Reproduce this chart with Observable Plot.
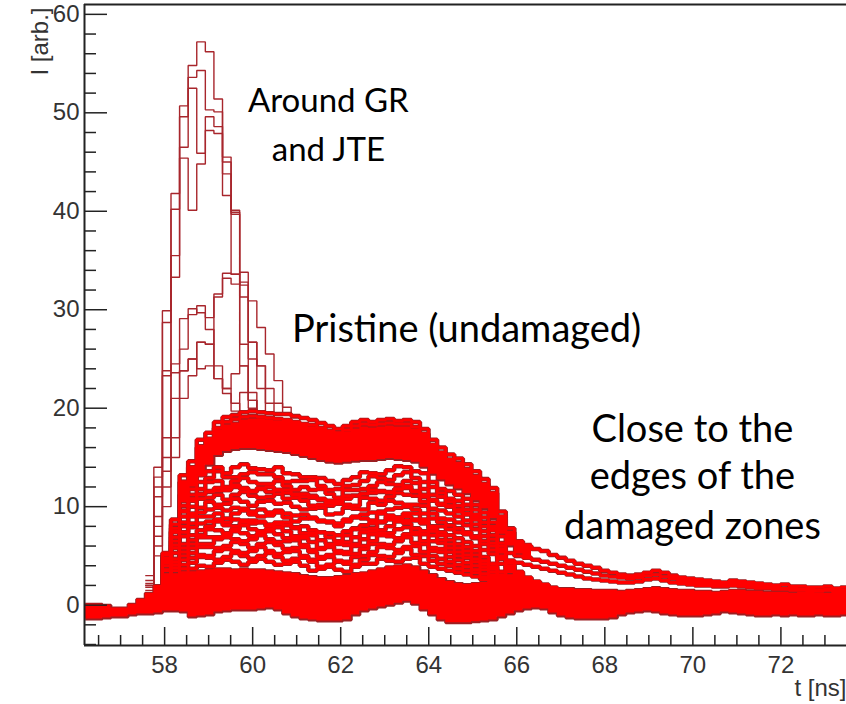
<!DOCTYPE html>
<html><head><meta charset="utf-8">
<script src="https://cdn.jsdelivr.net/npm/d3@7"></script>
<script src="https://cdn.jsdelivr.net/npm/@observablehq/plot@0.6"></script>
<style>body{margin:0;background:#fff}</style>
</head><body><div id="chart"></div>
<script>
// Histogram binning (ns)
const binStart = 56.195;
const binWidth = 0.195;
const xDomain = [56.18, 73.49];
const yDomain = [-4.1, 61.0];
const xMajor = [58, 60, 62, 64, 66, 68, 70, 72];
const yMajor = [0, 10, 20, 30, 40, 50, 60];
const xMinor = [56.5,57,57.5,58.5,59,59.5,60.5,61,61.5,62.5,63,63.5,64.5,65,65.5,66.5,67,67.5,68.5,69,69.5,70.5,71,71.5,72.5,73];
const yMinor = [-4,-2,2,4,6,8,12,14,16,18,22,24,26,28,32,34,36,38,42,44,46,48,52,54,56,58];

// "Around GR and JTE" histograms, bins 7..25
const peakFirstBin = 7;
const peakT1 = [3.0,14.0,29.9,41.8,50.7,54.8,57.2,56.2,51.4,45.5,40.1,26.5,21.6,19.5,18.8,18.5,18.0,17.5,17.0];
const peakT2 = [2.5,13.0,28.7,40.2,49.6,53.6,54.3,50.3,50.1,45.0,39.7,24.3,20.8,19.0,18.5,18.2,17.8,17.2,16.8];
const peakT3 = [2.2,12.0,23.8,35.5,46.5,52.5,45.9,49.6,48.6,43.8,39.9,32.5,26.7,24.3,20.5,19.0,18.5,18.0,17.5];
const peakT4 = [2.0,11.0,23.3,33.3,45.4,40.1,44.8,48.2,47.9,41.6,33.6,31.3,25.0,22.0,19.5,18.6,18.0,17.6,17.2];
const peakM1 = [2.0,9.0,17.0,24.5,29.1,30.1,29.7,29.2,31.6,33.7,33.6,33.8,30.9,28.2,25.5,22.8,20.1,19.0,18.2];
const peakM2 = [1.8,8.0,15.0,23.6,23.8,25.0,26.7,26.5,31.3,33.2,32.6,32.8,26.7,24.3,22.0,20.5,19.5,18.5,17.8];
const peakS1 = [1.5,7.0,13.6,21.0,26.0,29.5,30.4,28.0,23.0,22.0,19.7,21.6,20.0,19.0,18.5,18.0,17.5,17.0,16.5];
const peakS2 = [1.2,6.0,12.0,17.0,21.0,23.3,26.7,26.5,24.3,22.0,23.5,24.3,20.8,19.0,18.0,17.5,17.0,16.5,16.0];
const peakS3 = [1.0,5.0,10.0,15.0,23.8,25.0,24.0,24.3,23.0,21.5,20.5,19.5,19.0,18.5,18.0,17.5,17.0,16.5,16.0];

// Pristine histograms, bins 8..58
const midFirstBin = 8;
const midP1 = [1.4,5.3,8.7,11.2,12.5,13.2,13.6,14.0,13.4,14.0,14.3,13.9,13.8,13.7,14.0,13.4,13.3,13.0,13.0,12.9,12.6,12.3,12.7,13.0,13.5,13.4,13.3,13.7,14.1,14.0,13.6,13.4,12.5,11.8,11.6,11.2,10.8,10.2,9.4,8.4,6.3,4.5,3.4,2.8,2.4,2.1,1.8,1.6,1.4,1.2,1.0];
const midP2 = [1.3,5.1,8.2,10.6,11.8,12.5,12.9,13.6,13.0,13.0,13.3,13.5,13.3,13.3,13.0,12.5,12.6,12.6,12.7,12.1,11.7,11.8,12.1,12.2,12.6,13.1,12.9,12.7,13.2,13.5,12.9,12.5,12.0,11.4,10.8,10.6,10.2,9.7,8.9,8.0,6.0,4.3,3.2,2.7,2.3,2.0,1.7,1.6,1.5,1.3,1.1];
const midP3 = [1.3,4.8,7.8,10.1,11.2,11.8,12.5,12.6,12.0,12.6,12.9,12.5,12.3,12.3,12.6,12.1,11.7,12.0,11.7,11.8,11.3,10.9,11.7,11.7,11.8,12.1,12.5,12.3,12.2,12.6,12.4,11.8,11.2,11.0,10.5,10.1,9.7,9.2,8.4,7.6,5.7,4.0,3.0,2.5,2.1,1.9,1.6,1.5,1.4,1.2,1.0];
const midP4 = [1.2,4.5,7.4,9.5,10.6,11.2,11.5,11.6,11.7,12.2,11.9,11.5,11.9,12.0,11.7,11.7,11.3,11.0,11.1,10.8,10.4,10.6,11.1,11.1,11.3,11.7,11.5,11.4,11.8,12.1,11.5,11.0,10.6,10.2,10.1,9.5,9.2,8.7,8.0,7.1,5.4,3.8,2.9,2.4,2.0,1.8,1.5,1.4,1.3,1.2,1.0];
const midP5 = [1.1,4.3,6.9,9.0,10.0,10.8,10.9,11.2,10.7,11.2,11.5,11.1,10.9,11.0,11.3,10.8,10.9,10.6,10.1,10.2,10.1,10.3,10.2,10.1,10.9,10.8,10.6,11.0,11.4,11.2,11.1,10.5,9.8,9.6,9.3,9.0,8.6,8.2,7.5,6.7,5.0,3.6,2.7,2.2,1.9,1.7,1.5,1.3,1.2,1.1,0.9];
const midP6 = [1.0,4.0,6.5,8.4,9.3,9.9,10.5,10.2,10.3,10.8,10.5,10.1,10.5,10.6,10.3,10.4,10.0,9.7,9.8,9.9,9.2,9.3,9.9,9.8,9.7,10.4,10.2,10.6,10.4,10.2,10.2,10.1,9.3,8.8,8.7,8.4,8.1,7.7,7.0,6.3,4.7,3.4,2.5,2.1,1.8,1.6,1.4,1.3,1.2,1.1,0.9];
const midP7 = [0.9,3.5,5.8,7.4,8.3,9.0,9.0,9.3,8.8,9.3,9.6,9.2,9.0,9.1,9.4,8.9,8.5,8.8,8.9,8.5,8.4,8.0,8.5,8.9,8.8,8.6,9.3,9.1,8.9,9.3,9.3,8.7,8.0,8.0,7.7,7.4,7.2,6.8,6.2,5.6,4.2,3.0,2.2,1.9,1.6,1.4,1.2,1.1,1.0,0.9,0.8];
const midP8 = [0.7,2.8,4.7,6.2,7.1,7.6,8.0,8.5,8.1,8.0,8.4,8.6,8.4,8.0,8.2,8.4,7.8,7.3,7.3,7.4,6.9,6.5,7.1,7.7,7.7,7.8,8.4,9.0,8.8,8.6,8.6,8.4,7.5,7.1,6.6,6.2,5.9,5.5,4.9,4.2,3.4,2.7,2.3,2.0,1.8,1.6,1.4,1.3,1.3,1.2,1.0];
const midP9 = [0.6,2.6,4.4,5.8,6.6,7.1,7.7,7.6,7.3,7.7,8.1,7.7,7.5,7.7,7.9,7.5,7.0,7.0,7.1,6.6,6.2,6.3,6.4,6.9,7.4,7.5,7.6,8.0,8.5,8.3,7.8,7.5,7.1,6.6,6.2,5.8,5.5,5.1,4.5,3.9,3.1,2.5,2.1,1.9,1.6,1.5,1.3,1.2,1.2,1.1,0.9];
const midP10 = [0.6,2.4,4.1,5.4,6.2,6.9,6.9,6.9,7.1,7.5,7.3,7.0,7.3,7.5,7.2,6.8,6.8,6.8,6.4,5.8,6.0,6.2,6.1,6.2,6.7,7.2,7.3,7.3,7.7,7.9,7.4,7.2,6.5,6.3,5.8,5.4,5.1,4.7,4.2,3.7,2.9,2.3,2.0,1.8,1.5,1.4,1.2,1.2,1.1,1.0,0.9];
const midP11 = [0.5,2.2,3.8,5.0,5.8,6.2,6.2,6.7,6.9,6.7,6.5,6.7,7.1,6.7,6.4,6.5,6.6,6.1,5.6,5.7,5.9,5.5,5.4,6.0,6.0,6.5,7.1,7.0,6.8,7.2,7.2,6.5,5.8,5.7,5.4,5.0,4.8,4.4,3.9,3.4,2.7,2.2,1.8,1.6,1.4,1.3,1.2,1.1,1.0,1.0,0.8];
const midP12 = [0.5,2.0,3.5,4.6,5.3,5.9,5.9,5.8,6.0,6.4,6.2,5.8,6.2,6.4,6.1,5.7,5.8,5.9,5.4,4.9,5.1,5.3,5.2,5.2,5.7,6.2,6.2,6.1,6.5,6.9,6.3,6.2,5.5,5.4,4.9,4.6,4.3,4.0,3.6,3.1,2.5,2.0,1.7,1.5,1.3,1.2,1.1,1.0,0.9,0.9,0.7];
const midP13 = [0.4,1.8,3.1,4.1,4.8,5.1,5.0,5.5,5.7,5.5,5.3,5.5,5.9,5.5,5.2,5.4,5.5,5.0,4.6,4.7,4.9,4.5,4.4,4.9,5.0,5.4,5.9,5.8,5.6,5.9,6.0,5.4,5.0,4.7,4.4,4.1,3.9,3.6,3.2,2.8,2.2,1.8,1.5,1.3,1.2,1.1,1.0,0.9,0.8,0.8,0.7];
const midP14 = [0.4,1.7,2.8,3.7,4.3,4.9,4.8,4.6,4.9,5.3,5.0,4.7,5.0,5.3,4.9,4.5,4.7,4.8,4.4,3.9,4.1,4.4,4.2,4.1,4.6,5.1,5.0,4.9,5.3,5.7,5.1,5.0,4.5,4.2,4.0,3.7,3.5,3.3,2.9,2.5,2.0,1.6,1.4,1.2,1.1,1.0,0.9,0.8,0.8,0.7,0.6];
const midP15 = [0.4,1.5,2.5,3.3,3.7,4.0,3.9,4.3,4.6,4.4,4.1,4.4,4.7,4.4,4.1,4.2,4.4,4.0,3.5,3.7,3.9,3.6,3.4,3.9,4.2,4.2,4.7,4.5,4.4,4.7,4.8,4.2,3.9,3.7,3.5,3.3,3.1,2.9,2.6,2.2,1.8,1.4,1.2,1.1,1.0,0.9,0.8,0.7,0.7,0.6,0.5];

// "Close to the edges" histograms, bins 8..88
const edgeFirstBin = 8;
const edgeD1 = [1.2,4.5,7.5,9.6,10.8,11.3,11.6,11.9,11.7,12.0,11.8,11.6,11.8,11.5,11.7,11.4,11.2,11.3,10.9,10.7,10.6,10.4,10.8,11.1,11.3,11.4,11.6,11.5,11.8,11.9,11.6,11.2,10.7,10.3,10.0,9.7,9.3,8.9,8.4,7.8,7.0,6.5,6.2,6.0,5.7,5.5,5.1,4.8,4.5,4.2,4.0,3.8,3.5,3.3,3.1,3.0,3.1,3.3,3.5,3.3,3.0,2.8,2.7,2.6,2.5,2.4,2.3,2.5,2.4,2.3,2.2,2.1,2.0,2.1,1.9,1.9,1.8,1.8,1.9,1.7,1.8];
const edgeD2 = [0.9,3.6,6.1,8.0,9.0,9.4,9.7,9.9,9.6,9.9,9.8,9.5,9.7,9.4,9.6,9.3,9.1,9.2,8.8,8.6,8.5,8.3,8.7,9.0,9.2,9.4,9.5,9.7,9.9,10.0,9.7,9.3,8.8,8.4,8.1,7.8,7.4,7.0,6.5,6.0,5.6,5.3,5.0,4.8,4.6,4.4,4.2,4.0,3.8,3.6,3.4,3.2,3.0,2.9,2.8,2.7,2.8,3.0,3.1,2.9,2.7,2.5,2.4,2.3,2.2,2.2,2.1,2.2,2.1,2.0,1.9,1.8,1.8,1.7,1.7,1.6,1.6,1.5,1.6,1.5,1.5];
const edgeD3 = [0.8,3.1,5.3,7.0,7.9,8.3,8.5,8.7,8.4,8.7,8.6,8.3,8.5,8.2,8.4,8.1,7.9,8.0,7.6,7.4,7.3,7.1,7.5,7.8,8.1,8.3,8.5,8.7,8.9,9.0,8.7,8.3,7.8,7.4,7.1,6.8,6.4,6.0,5.6,5.2,4.8,4.5,4.3,4.1,3.9,3.7,3.5,3.3,3.1,2.9,2.7,2.6,2.5,2.4,2.3,2.3,2.4,2.6,2.7,2.5,2.3,2.2,2.1,2.0,2.0,1.9,1.9,2.0,1.9,1.8,1.7,1.7,1.6,1.6,1.5,1.5,1.4,1.4,1.5,1.4,1.4];

// Highest pristine histograms, bins 10..51
const topFirstBin = 10;
const topA = [2.9,13.2,14.6,16.8,17.5,18.6,19.1,19.3,19.6,19.7,19.6,19.5,19.4,19.4,19.2,19.0,18.8,18.5,18.2,17.9,18.2,18.6,18.8,18.6,18.8,18.9,18.7,18.8,18.6,17.9,16.8,16.0,15.3,14.9,14.3,13.6,12.8,11.9,9.5,7.8,6.5,6.1];
const topB = [2.8,12.5,14.0,16.0,16.9,18.0,18.6,18.9,19.1,19.2,19.1,19.0,18.9,18.8,18.6,18.4,18.3,18.0,17.7,17.5,17.8,18.2,18.4,18.3,18.4,18.5,18.4,18.4,18.1,17.4,16.3,15.5,14.8,14.4,13.8,13.1,12.3,11.4,9.0,7.4,6.3,6.0];

// Dense bundle near the baseline, bins 0..88 (lower / upper edge)
const lowFirstBin = 0;
const bandLow = [-1.4,-1.4,-1.3,-1.2,-1.2,-1.0,-0.9,-0.9,-0.8,-0.6,
  -0.6,-0.7,-1.2,-1.1,-1.0,-0.7,-0.6,-0.5,-0.5,-0.5,
  -0.4,-0.3,-0.5,-0.9,-1.2,-1.4,-1.5,-1.6,-1.6,-1.6,
  -1.5,-1.0,-0.6,-0.4,-0.2,0.0,0.2,0.4,0.1,-0.5,
  -1.0,-1.5,-1.8,-1.8,-1.8,-1.7,-1.6,-1.5,-1.2,-0.9,
  -0.6,-0.4,-0.3,-0.4,-0.8,-1.1,-1.3,-1.4,-1.4,-1.4,
  -1.4,-1.3,-1.0,-0.8,-0.7,-0.6,-0.7,-0.9,-1.0,-1.1,
  -1.1,-1.1,-1.0,-0.9,-0.7,-0.8,-0.9,-1.0,-1.1,-1.1,
  -1.0,-1.1,-1.0,-1.1,-1.1,-1.0,-1.1,-1.1,-1.0];
const bandLowTop = [0.1,0.1,0.0,-0.3,-0.3,0.1,0.6,1.2,2.0,2.6,
  3.0,3.2,3.4,3.5,3.6,3.7,3.7,3.6,3.7,3.6,
  3.6,3.5,3.4,3.3,3.2,3.0,2.9,2.8,2.8,2.9,
  3.0,3.2,3.3,3.5,3.7,3.9,4.0,4.1,3.9,3.5,
  3.1,2.7,2.4,2.2,2.1,2.2,2.3,2.3,2.2,2.1,
  2.0,1.9,1.9,1.8,1.8,1.7,1.7,1.6,1.6,1.5,
  1.5,1.5,1.4,1.5,1.6,1.7,1.8,1.7,1.6,1.5,
  1.5,1.4,1.4,1.3,1.4,1.5,1.5,1.4,1.4,1.3,
  1.3,1.3,1.2,1.3,1.3,1.2,1.2,1.3,1.3];

// Dense bundle of the high pristine histograms, bins 11..51
const upFirstBin = 11;
const bandUpBot = [10.5,12.0,13.2,14.2,15.2,15.6,15.8,15.9,15.9,15.8,15.7,15.6,15.5,15.3,15.1,14.9,14.7,14.5,14.4,14.5,14.6,14.7,14.7,14.8,14.9,14.8,14.7,14.5,14.0,13.3,12.7,12.2,11.8,11.3,10.6,9.8,8.8,7.2,6.0,5.2,4.8];
const bandUpTop = [12.6,14.0,16.2,16.8,17.8,18.3,18.5,18.8,18.9,18.9,18.8,18.7,18.7,18.5,18.3,18.1,17.9,17.6,17.4,17.6,17.9,18.1,18.0,18.1,18.2,18.1,18.1,17.9,17.4,16.2,15.5,14.8,14.4,13.8,13.1,12.3,11.4,9.0,7.3,6.3,6.0];

// Annotations
const noteText = ["Around GR", "and JTE", "Pristine (undamaged)", "Close to the", "edges of the", "damaged zones"];
const noteT = [61.72, 61.72, 64.86, 69.99, 69.99, 69.99];
const noteV = [51.2, 46.2, 28.0, 17.8, 13.0, 8.0];
const noteSize = [33, 33, 38, 38, 38, 38];

function histRows(name, firstBin, values) {
  const rows = values.map((v, j) => ({s: name, t: binStart + (firstBin + j) * binWidth, v}));
  const last = rows[rows.length - 1];
  rows.push({s: name, t: last.t + binWidth, v: last.v});
  return rows;
}
function bandRows(firstBin, lo, hi) {
  const rows = lo.map((v, j) => ({t: binStart + (firstBin + j) * binWidth, lo: v, hi: hi[j]}));
  const last = rows[rows.length - 1];
  rows.push({t: last.t + binWidth, lo: last.lo, hi: last.hi});
  return rows;
}

const peaks = [["T1",peakT1],["T2",peakT2],["T3",peakT3],["T4",peakT4],["M1",peakM1],["M2",peakM2],["S1",peakS1],["S2",peakS2],["S3",peakS3]]
  .flatMap(([n, a]) => histRows(n, peakFirstBin, a));
const mids = [midP1,midP2,midP3,midP4,midP5,midP6,midP7,midP8,midP9,midP10,midP11,midP12,midP13,midP14,midP15];
const mass = [
  ...mids.flatMap((a, i) => histRows("P" + i, midFirstBin, a)),
  ...[["D1",edgeD1],["D2",edgeD2],["D3",edgeD3]].flatMap(([n, a]) => histRows(n, edgeFirstBin, a)),
  ...[["A",topA],["B",topB]].flatMap(([n, a]) => histRows(n, topFirstBin, a))
];
const lowBand = bandRows(lowFirstBin, bandLow, bandLowTop);
const upBand = bandRows(upFirstBin, bandUpBot, bandUpTop);
const notes = noteText.map((text, i) => ({text, t: noteT[i], v: noteV[i], size: noteSize[i]}));

const DARK = "#9c1f22";
const RED = "#ff0000";
const stepOpts = {x: "t", curve: "step-after", strokeLinejoin: "miter", strokeLinecap: "butt", clip: true};

const chart = Plot.plot({
  width: 846,
  height: 704,
  marginLeft: 84,
  marginRight: 0,
  marginTop: 4,
  marginBottom: 59,
  x: {domain: xDomain, axis: null, label: null},
  y: {domain: yDomain, axis: null, label: null},
  style: {fontFamily: "'Liberation Sans', Arial, sans-serif", fontSize: "24px", background: "#fff"},
  marks: [
    Plot.line(peaks, {...stepOpts, y: "v", z: "s", stroke: "#a8262c", strokeWidth: 1.4}),
    Plot.line(lowBand, {...stepOpts, y: "lo", stroke: DARK, strokeWidth: 3}),
    Plot.line(lowBand, {...stepOpts, y: "hi", stroke: DARK, strokeWidth: 3}),
    Plot.line(upBand, {...stepOpts, y: "lo", stroke: DARK, strokeWidth: 3}),
    Plot.line(upBand, {...stepOpts, y: "hi", stroke: DARK, strokeWidth: 3}),
    Plot.line(mass, {...stepOpts, y: "v", z: "s", stroke: DARK, strokeWidth: 4.5}),
    Plot.areaY(lowBand, {x: "t", y1: "lo", y2: "hi", curve: "step-after", fill: RED, clip: true}),
    Plot.areaY(upBand, {x: "t", y1: "lo", y2: "hi", curve: "step-after", fill: RED, clip: true}),
    Plot.line(mass, {...stepOpts, y: "v", z: "s", stroke: RED, strokeWidth: 2.9}),
    Plot.ruleX([xDomain[0]], {stroke: "#222", strokeWidth: 2}),
    Plot.ruleY(yDomain, {stroke: "#222", strokeWidth: 2}),
    Plot.axisY(yMajor, {anchor: "left", tickSize: -23, tickPadding: 28, label: null, fontSize: 24, stroke: "#222", fill: "#333", strokeWidth: 1.5}),
    Plot.axisY(yMinor, {anchor: "left", tickSize: -12, label: null, fill: "none", stroke: "#222", strokeWidth: 1.5}),
    Plot.axisX(xMajor, {anchor: "bottom", tickSize: -18, tickPadding: 28, label: null, fontSize: 24, stroke: "#222", fill: "#333", strokeWidth: 1.5}),
    Plot.axisX(xMinor, {anchor: "bottom", tickSize: -10, label: null, fill: "none", stroke: "#222", strokeWidth: 1.5}),
    Plot.text(["I [arb.]"], {frameAnchor: "top-left", rotate: -90, textAnchor: "end", dx: -54, dy: 3, fontSize: 24, fill: "#333"}),
    Plot.text(["t [ns]"], {frameAnchor: "bottom-right", textAnchor: "end", lineAnchor: "top", dy: 33, fontSize: 24, fill: "#333"}),
    Plot.text(notes, {x: "t", y: "v", text: "text", fontSize: "size", fontFamily: "Lato", fill: "#000", textAnchor: "middle", lineAnchor: "middle"})
  ]
});
document.getElementById("chart").appendChild(chart);
</script>
</body></html>
